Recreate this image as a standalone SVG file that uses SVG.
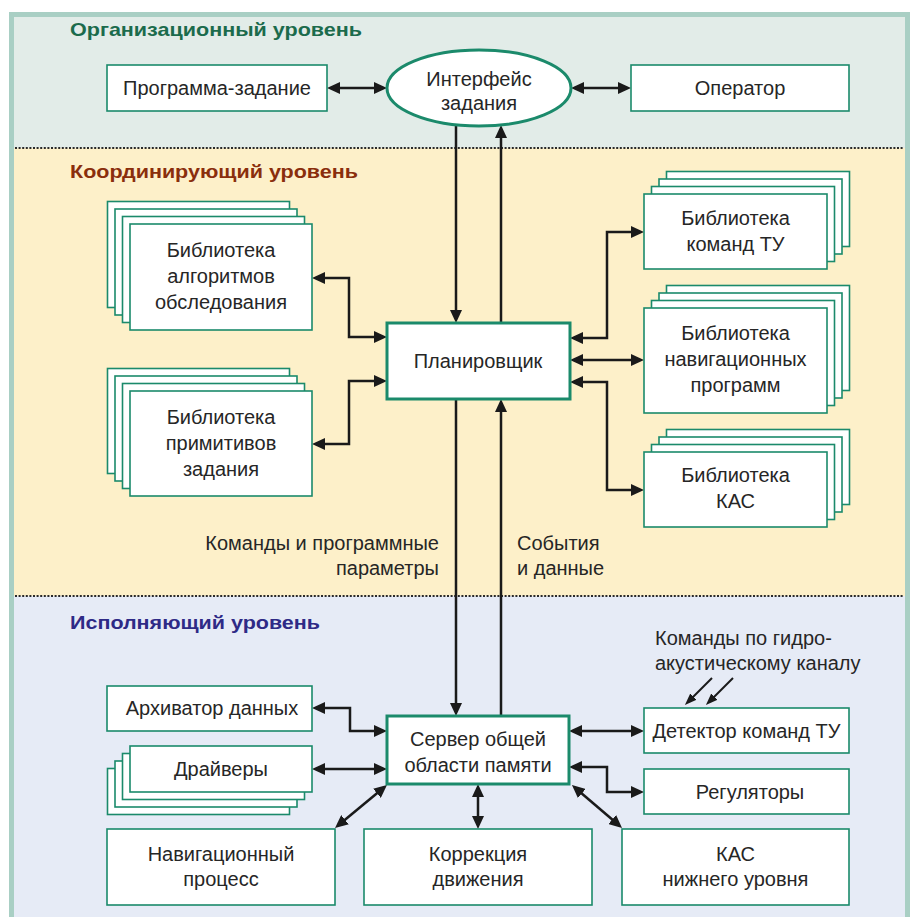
<svg xmlns="http://www.w3.org/2000/svg" width="912" height="917" viewBox="0 0 912 917">
<style>
.bx{fill:#fff;stroke:#1b8a6b;stroke-width:1.6}
.bk{fill:#fff;stroke:#1b8a6b;stroke-width:3}
.t{font-family:"Liberation Sans",Arial,sans-serif;font-size:20px;fill:#262626;text-anchor:middle}
.l{font-family:"Liberation Sans",Arial,sans-serif;font-size:20px;fill:#262626}
.h{font-family:"Liberation Sans",Arial,sans-serif;font-size:19px;font-weight:bold}
.c{fill:none;stroke:#1a1a1a;stroke-width:2.5}
.d{fill:none;stroke:#2a2a2a;stroke-width:2;stroke-dasharray:2 1.6}
</style>
<defs>
<marker id="a" markerUnits="userSpaceOnUse" markerWidth="14" markerHeight="12" refX="2" refY="6" orient="auto-start-reverse"><path d="M0,0 L13,6 L0,12 z" fill="#1a1a1a"/></marker>
<marker id="s" markerUnits="userSpaceOnUse" markerWidth="12" markerHeight="10" refX="2" refY="4.5" orient="auto"><path d="M0,0 L12,4.5 L0,9 z" fill="#1a1a1a"/></marker>
</defs>
<g id="background">
<rect x="14" y="17" width="891" height="131" fill="#e2ece8"/>
<rect x="14" y="148" width="891" height="448" fill="#fdf0c9"/>
<rect x="14" y="596" width="891" height="330" fill="#e6ebf6"/>
<rect x="11.5" y="14.5" width="896" height="920" fill="none" stroke="#a9cfc4" stroke-width="5"/>
<line class="d" x1="15" y1="148" x2="904" y2="148"/>
<line class="d" x1="15" y1="596" x2="904" y2="596"/>
<text class="h" x="70" y="36" fill="#1b6b4c" textLength="292" lengthAdjust="spacingAndGlyphs">Организационный уровень</text>
<text class="h" x="70" y="178" fill="#8a2e0c" textLength="288" lengthAdjust="spacingAndGlyphs">Координирующий уровень</text>
<text class="h" x="70" y="629" fill="#2e2a86" textLength="250" lengthAdjust="spacingAndGlyphs">Исполняющий уровень</text>
</g>
<g id="connectors">
<path class="c" d="M338,88 H376" marker-start="url(#a)" marker-end="url(#a)"/>
<path class="c" d="M582,88 H620" marker-start="url(#a)" marker-end="url(#a)"/>
<path class="c" d="M456,125 V312" marker-end="url(#a)"/>
<path class="c" d="M501,323 V136" marker-end="url(#a)"/>
<path class="c" d="M323,278 H349 V337 H376" marker-start="url(#a)" marker-end="url(#a)"/>
<path class="c" d="M323,444 H349 V381 H376" marker-start="url(#a)" marker-end="url(#a)"/>
<path class="c" d="M581,338 H607 V232 H633" marker-start="url(#a)" marker-end="url(#a)"/>
<path class="c" d="M581,360 H633" marker-start="url(#a)" marker-end="url(#a)"/>
<path class="c" d="M581,382 H607 V490 H633" marker-start="url(#a)" marker-end="url(#a)"/>
<path class="c" d="M456,399 V705" marker-end="url(#a)"/>
<path class="c" d="M501,716 V410" marker-end="url(#a)"/>
<path class="c" d="M323,708 H350 V731 H376" marker-start="url(#a)" marker-end="url(#a)"/>
<path class="c" d="M323,769 H376" marker-start="url(#a)" marker-end="url(#a)"/>
<path class="c" d="M580,731 H633" marker-start="url(#a)" marker-end="url(#a)"/>
<path class="c" d="M580,767 H607 V792 H633" marker-start="url(#a)" marker-end="url(#a)"/>
<path class="c" d="M478,795 V818" marker-start="url(#a)" marker-end="url(#a)"/>
<path class="c" d="M378.5,792 L343.5,821" marker-start="url(#a)" marker-end="url(#a)"/>
<path class="c" d="M580.3,792.2 L613.7,820.8" marker-start="url(#a)" marker-end="url(#a)"/>
<path class="c" style="stroke-width:2" d="M712,678 L692,698" marker-end="url(#s)"/>
<path class="c" style="stroke-width:2" d="M733,678 L713,698" marker-end="url(#s)"/>
<text class="l" x="439" y="550" text-anchor="end">Команды и программные</text>
<text class="l" x="439" y="575" text-anchor="end">параметры</text>
<text class="l" x="517" y="550">События</text>
<text class="l" x="517" y="575">и данные</text>
<text class="l" x="655" y="645">Команды по гидро-</text>
<text class="l" x="655" y="670">акустическому каналу</text>
</g>
<g id="program-task">
<rect class="bx" x="107" y="65" width="220" height="46"/>
<text class="t" x="217" y="95">Программа-задание</text>
</g>
<g id="task-interface">
<ellipse class="bk" cx="479" cy="88" rx="92" ry="38"/>
<text class="t" x="479" y="86">Интерфейс</text>
<text class="t" x="479" y="110">задания</text>
</g>
<g id="operator">
<rect class="bx" x="631" y="65" width="218" height="46"/>
<text class="t" x="740" y="95">Оператор</text>
</g>
<g id="lib-survey">
<rect class="bx" x="107.5" y="201.5" width="182" height="106"/>
<rect class="bx" x="115" y="209" width="182" height="106"/>
<rect class="bx" x="122.5" y="216.5" width="182" height="106"/>
<rect class="bx" x="130" y="224" width="182" height="106"/>
<text class="t" x="221" y="257">Библиотека</text>
<text class="t" x="221" y="283">алгоритмов</text>
<text class="t" x="221" y="309">обследования</text>
</g>
<g id="lib-primitives">
<rect class="bx" x="107.5" y="368.5" width="182" height="105"/>
<rect class="bx" x="115" y="376" width="182" height="105"/>
<rect class="bx" x="122.5" y="383.5" width="182" height="105"/>
<rect class="bx" x="130" y="391" width="182" height="105"/>
<text class="t" x="221" y="424">Библиотека</text>
<text class="t" x="221" y="450">примитивов</text>
<text class="t" x="221" y="476">задания</text>
</g>
<g id="planner">
<rect class="bk" x="387" y="323" width="183" height="76"/>
<text class="t" x="478" y="368">Планировщик</text>
</g>
<g id="lib-tu">
<rect class="bx" x="666.5" y="171.5" width="183" height="75"/>
<rect class="bx" x="659" y="179" width="183" height="75"/>
<rect class="bx" x="651.5" y="186.5" width="183" height="75"/>
<rect class="bx" x="644" y="194" width="183" height="75"/>
<text class="t" x="735.5" y="225">Библиотека</text>
<text class="t" x="735.5" y="251">команд ТУ</text>
</g>
<g id="lib-nav">
<rect class="bx" x="666.5" y="285.5" width="183" height="105"/>
<rect class="bx" x="659" y="293" width="183" height="105"/>
<rect class="bx" x="651.5" y="300.5" width="183" height="105"/>
<rect class="bx" x="644" y="308" width="183" height="105"/>
<text class="t" x="735.5" y="340">Библиотека</text>
<text class="t" x="735.5" y="366">навигационных</text>
<text class="t" x="735.5" y="392">программ</text>
</g>
<g id="lib-kas">
<rect class="bx" x="666.5" y="429.5" width="183" height="75"/>
<rect class="bx" x="659" y="437" width="183" height="75"/>
<rect class="bx" x="651.5" y="444.5" width="183" height="75"/>
<rect class="bx" x="644" y="452" width="183" height="75"/>
<text class="t" x="735.5" y="482">Библиотека</text>
<text class="t" x="735.5" y="508">КАС</text>
</g>
<g id="archiver">
<rect class="bx" x="107" y="686" width="205" height="45"/>
<text class="t" x="212" y="715">Архиватор данных</text>
</g>
<g id="drivers">
<rect class="bx" x="107.5" y="768.5" width="182" height="46"/>
<rect class="bx" x="115" y="761" width="182" height="46"/>
<rect class="bx" x="122.5" y="753.5" width="182" height="46"/>
<rect class="bx" x="130" y="746" width="182" height="46"/>
<text class="t" x="221" y="776">Драйверы</text>
</g>
<g id="server">
<rect class="bk" x="387" y="716" width="182" height="68"/>
<text class="t" x="478" y="746">Сервер общей</text>
<text class="t" x="478" y="772">области памяти</text>
</g>
<g id="detector">
<rect class="bx" x="644" y="708" width="205" height="45"/>
<text class="t" x="746.5" y="738">Детектор команд ТУ</text>
</g>
<g id="regulators">
<rect class="bx" x="644" y="769" width="205" height="45"/>
<text class="t" x="750" y="799">Регуляторы</text>
</g>
<g id="nav-process">
<rect class="bx" x="107" y="829" width="228" height="76"/>
<text class="t" x="221" y="861">Навигационный</text>
<text class="t" x="221" y="886">процесс</text>
</g>
<g id="motion-correction">
<rect class="bx" x="364" y="829" width="228" height="76"/>
<text class="t" x="478" y="861">Коррекция</text>
<text class="t" x="478" y="886">движения</text>
</g>
<g id="kas-low">
<rect class="bx" x="622" y="829" width="227" height="76"/>
<text class="t" x="735.5" y="861">КАС</text>
<text class="t" x="735.5" y="886">нижнего уровня</text>
</g>
</svg>
